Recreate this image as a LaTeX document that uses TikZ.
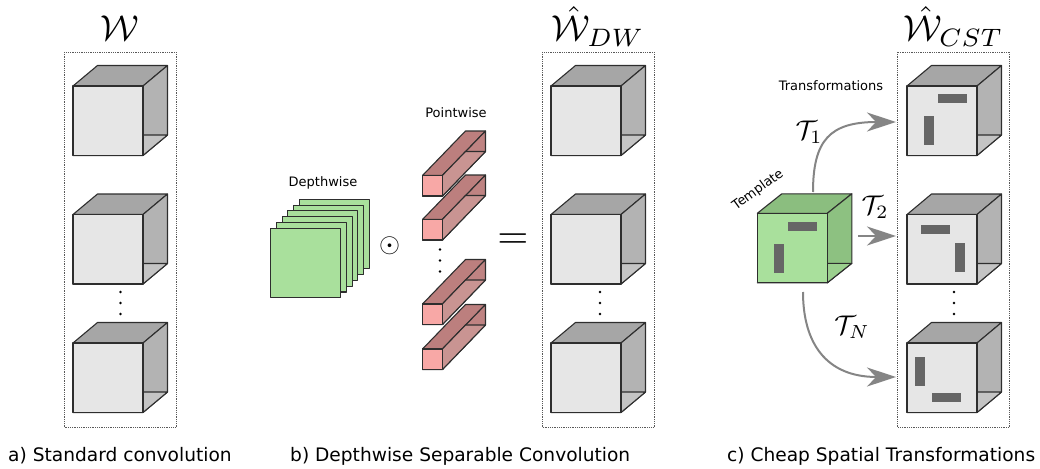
\documentclass[tikz,border=0pt]{standalone}
\usepackage{fontspec}
\setsansfont{DejaVu Sans}
\usetikzlibrary{arrows.meta}

\definecolor{cubeFront}{HTML}{E6E6E6}
\definecolor{cubeTop}{HTML}{A6A6A6}
\definecolor{cubeSide}{HTML}{B3B3B3}
\definecolor{cubeBase}{HTML}{C4C4C4}
\definecolor{tplFront}{HTML}{A9E09C}
\definecolor{tplTop}{HTML}{8BBE7F}
\definecolor{tplSide}{HTML}{8DC181}
\definecolor{tplBase}{HTML}{9BD08E}
\definecolor{pwFront}{HTML}{F8A8A6}
\definecolor{pwTop}{HTML}{BC7F7E}
\definecolor{pwSide}{HTML}{BF8382}
\definecolor{pwBase}{HTML}{C99492}
\definecolor{barGrey}{HTML}{666666}
\definecolor{edgeInk}{HTML}{2E2E2E}
\definecolor{flowGrey}{HTML}{858585}

\tikzset{
  lbl/.style={font=\sffamily\fontsize{13}{15}\selectfont, inner sep=0pt},
  caption/.style={font=\sffamily\fontsize{18.6}{22}\selectfont, inner sep=0pt, anchor=base west},
  title/.style={scale=3.6, inner sep=0pt, anchor=base},
  tlabel/.style={scale=2.7, inner sep=0pt},
  frame/.style={draw=black!65, densely dotted, line width=0.8pt},
  edge/.style={draw=edgeInk, line width=1.1pt, line join=round},
  grey top/.style={fill=cubeTop}, grey side/.style={fill=cubeSide},
  grey bottom/.style={fill=cubeBase}, grey front/.style={fill=cubeFront},
  green top/.style={fill=tplTop}, green side/.style={fill=tplSide},
  green bottom/.style={fill=tplBase}, green front/.style={fill=tplFront},
  pink top/.style={fill=pwTop}, pink side/.style={fill=pwSide},
  pink bottom/.style={fill=pwBase}, pink front/.style={fill=pwFront},
  sheet/.style={edge, fill=tplFront},
  patch/.style={fill=barGrey},
  flow/.style={draw=flowGrey, line width=2pt,
    -{Stealth[length=29pt, width=19pt, inset=9pt]}},
  dotmark/.style={circle, fill=black, inner sep=0pt, minimum size=2.8pt}
}

% box in oblique view: #1 colour set, (#2,#3) front top-left corner,
% #4 width, #5 height, #6 depth shift right, #7 depth shift up
\newcommand{\prism}[7]{%
  \path[edge,#1 top] (#2,#3) -- ++(#6,-#7) -- ++(#4,0) -- ++(-#6,#7) -- cycle;
  \path[edge,#1 side] (#2+#4,#3) -- ++(#6,-#7) -- ++(0,#5) -- ++(-#6,#7) -- cycle;
  \path[edge,#1 bottom] (#2,#3+#5) -- ++(#4,0) -- ++(#6,-#7) -- ++(-#4,0) -- cycle;
  \path[edge,#1 front] (#2,#3) rectangle ++(#4,#5);
}
% standard grey cube with front top-left corner at (#1,#2)
\newcommand{\greycube}[2]{\prism{grey}{#1}{#2}{70}{69.5}{24.5}{20.5}}

\begin{document}
\begin{tikzpicture}[x=1pt, y=-1pt]
\useasboundingbox (0,0) rectangle (1040,468);

% ---------- a) standard convolution ----------
\node[title] (titleA) at (120,41) {$\mathcal{W}$};
\draw[frame] (64,52) rectangle (176,427.5);
\greycube{73}{86}
\greycube{73}{214.5}
\greycube{73}{343}
\node[dotmark] (aDot1) at (120.5,292) {};
\node[dotmark] (aDot2) at (120.5,303) {};
\node[dotmark] (aDot3) at (120.5,314) {};
\node[caption] (capA) at (8,461) {a) Standard convolution};

% ---------- b) depthwise separable convolution ----------
\node[lbl] (dwLabel) at (323,183) {Depthwise};
\foreach \k in {5,4,...,0}
  \path[sheet] (270.7+5.7*\k,228.3-5.8*\k) rectangle ++(70,69.5);

\node[scale=2.7, inner sep=0pt] (odot) at (389.5,246) {$\odot$};

\node[lbl] (pwLabel) at (456,113) {Pointwise};
\prism{pink}{422.5}{175.5}{20}{20.5}{43}{44.5}
\prism{pink}{422.5}{219.5}{20}{20.5}{43}{44.5}
\prism{pink}{422.5}{304}{20}{20.5}{43}{44.5}
\prism{pink}{422.5}{349}{20}{20.5}{43}{44.5}
\node[dotmark] (pwDot1) at (440,249.5) {};
\node[dotmark] (pwDot2) at (440,260.5) {};
\node[dotmark] (pwDot3) at (440,271.5) {};

\node[scale=4, inner sep=0pt] (equals) at (513,241.5) {$=$};

\node[title] (titleB) at (598,41) {$\hat{\mathcal{W}}_{DW}$};
\draw[frame] (542,52) rectangle (654,427.5);
\greycube{551}{86}
\greycube{551}{214.5}
\greycube{551}{343}
\node[dotmark] (bDot1) at (600,292) {};
\node[dotmark] (bDot2) at (600,303) {};
\node[dotmark] (bDot3) at (600,314) {};
\node[caption] (capB) at (290,461) {b) Depthwise Separable Convolution};

% ---------- c) cheap spatial transformations ----------
\node[lbl] (trLabel) at (831,86) {Transformations};
\node[lbl, rotate=36] (tplLabel) at (758,190) {Template};

% template filter
\prism{green}{757.3}{213.3}{70}{69.5}{24.5}{19.5}
\fill[patch] (788.3,221.7) rectangle ++(28.4,9.5);
\fill[patch] (774,244) rectangle ++(10,28.7);

\node[title] (titleC) at (953.5,41) {$\hat{\mathcal{W}}_{CST}$};
\draw[frame] (897.5,52) rectangle (1009.5,427.5);

\greycube{907}{86}
\fill[patch] (938.3,94.3) rectangle ++(28.4,9);
\fill[patch] (924,115.7) rectangle ++(10,29);

\greycube{907}{214.5}
\fill[patch] (920.7,225.3) rectangle ++(29.3,9);
\fill[patch] (955,242.7) rectangle ++(10,29);

\greycube{907}{343}
\fill[patch] (915,356.7) rectangle ++(10,29);
\fill[patch] (931.7,392.9) rectangle ++(29.3,9.2);

\node[dotmark] (cDot1) at (954,292) {};
\node[dotmark] (cDot2) at (954,303) {};
\node[dotmark] (cDot3) at (954,314) {};

% transformation arrows
\coordinate (tplTop) at (813,192);
\coordinate (tplRight) at (858,236);
\coordinate (tplBelow) at (803,292);
\coordinate (cstOne) at (896,122);
\coordinate (cstTwo) at (896,236);
\coordinate (cstN) at (896,377);
\draw[flow] (tplTop) .. controls (813,140) and (830,122) .. (cstOne);
\draw[flow] (tplRight) -- (cstTwo);
\draw[flow] (tplBelow) .. controls (803,343) and (826,377) .. (cstN);

\node[tlabel] (tOne) at (809,132) {$\mathcal{T}_1$};
\node[tlabel] (tTwo) at (875,207) {$\mathcal{T}_2$};
\node[tlabel] (tN) at (852,327) {$\mathcal{T}_N$};

\node[caption] (capC) at (727,461) {c) Cheap Spatial Transformations};
\end{tikzpicture}
\end{document}
